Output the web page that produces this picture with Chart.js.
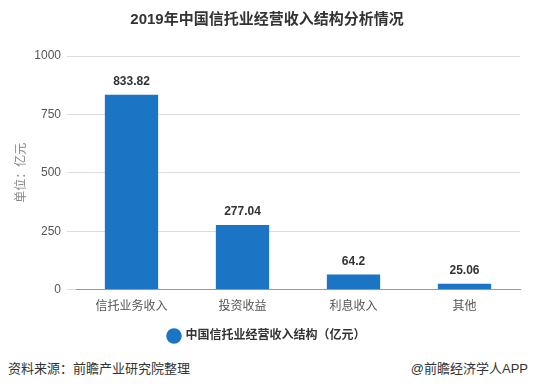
<!DOCTYPE html>
<html>
<head>
<meta charset="utf-8">
<script src="https://cdn.jsdelivr.net/npm/chart.js@4/dist/chart.umd.min.js"></script>
<style>
  body { margin: 0; background: #fff; }
  #wrap { position: relative; width: 534px; height: 390px; }
  #c { position: absolute; left: 0; top: 0; }
  .foot { position: absolute; top: 358px; font: 13px "Liberation Sans", "Noto Sans CJK SC", sans-serif; color: #333; }
</style>
</head>
<body>
<div id="wrap">
  <canvas id="c" width="534" height="352"></canvas>
  <div class="foot" style="left:8px">资料来源：前瞻产业研究院整理</div>
  <div class="foot" style="right:6px">@前瞻经济学人APP</div>
</div>
<script>
var FONT = '"Liberation Sans", "Noto Sans CJK SC", sans-serif'

var categories = ["信托业务收入", "投资收益", "利息收入", "其他"]
var values = [833.82, 277.04, 64.2, 25.06]
var yTicks = [0, 250, 500, 750, 1000]
var seriesName = "中国信托业经营收入结构（亿元）"

// values above bars
var barLabels = {
    id: "barLabels",
    afterDatasetsDraw: function(chart){
        var ctx = chart.ctx
        var meta = chart.getDatasetMeta(0)
        ctx.save()
        ctx.font = "bold 12px " + FONT
        ctx.fillStyle = "#333"
        ctx.textAlign = "center"
        ctx.textBaseline = "bottom"
        for(var i in meta.data){
            var bar = meta.data[i]
            ctx.fillText(String(values[i]), bar.x, bar.y - 7)
        }
        ctx.restore()
    }
}

const myChart = new Chart(document.getElementById("c"), {
    type: 'bar',
    data: {
        labels: categories,
        datasets: [{
            label: seriesName,
            data: values,
            backgroundColor: '#1b75c4',
            barPercentage: 0.48,
            categoryPercentage: 1
        }]
    },
    options: {
        responsive: false,
        animation: false,
        layout: { padding: { left: 14, right: 14, top: 0, bottom: 0 } },
        plugins: {
            title: {
                display: true,
                text: "2019年中国信托业经营收入结构分析情况",
                color: '#333',
                font: { family: FONT, size: 15, weight: 'bold' },
                padding: { top: 11, bottom: 27 }
            },
            legend: {
                position: 'bottom',
                labels: {
                    usePointStyle: true,
                    pointStyle: 'circle',
                    boxWidth: 11,
                    boxHeight: 11,
                    color: '#333',
                    font: { family: FONT, size: 12, weight: 'bold' },
                    padding: 14
                }
            },
            tooltip: { enabled: false }
        },
        scales: {
            x: {
                grid: { display: false },
                border: { color: '#999' },
                ticks: { color: '#555', font: { family: FONT, size: 12 }, padding: 2 }
            },
            y: {
                min: 0,
                max: 1000,
                afterBuildTicks: function(scale){
                    scale.ticks = yTicks.map(function(v){ return { value: v } })
                },
                afterFit: function(scale){ scale.width = 62 },
                grid: { color: '#dcdcdc', tickLength: 9 },
                border: { display: false },
                title: {
                    display: true,
                    text: "单位：亿元",
                    color: '#888',
                    font: { family: FONT, size: 12 },
                    padding: 0
                },
                ticks: {
                    color: '#555',
                    font: { family: FONT, size: 12 },
                    padding: 6,
                    callback: function(v){ return String(v) }
                }
            }
        }
    },
    plugins: [barLabels]
});
</script>
</body>
</html>
